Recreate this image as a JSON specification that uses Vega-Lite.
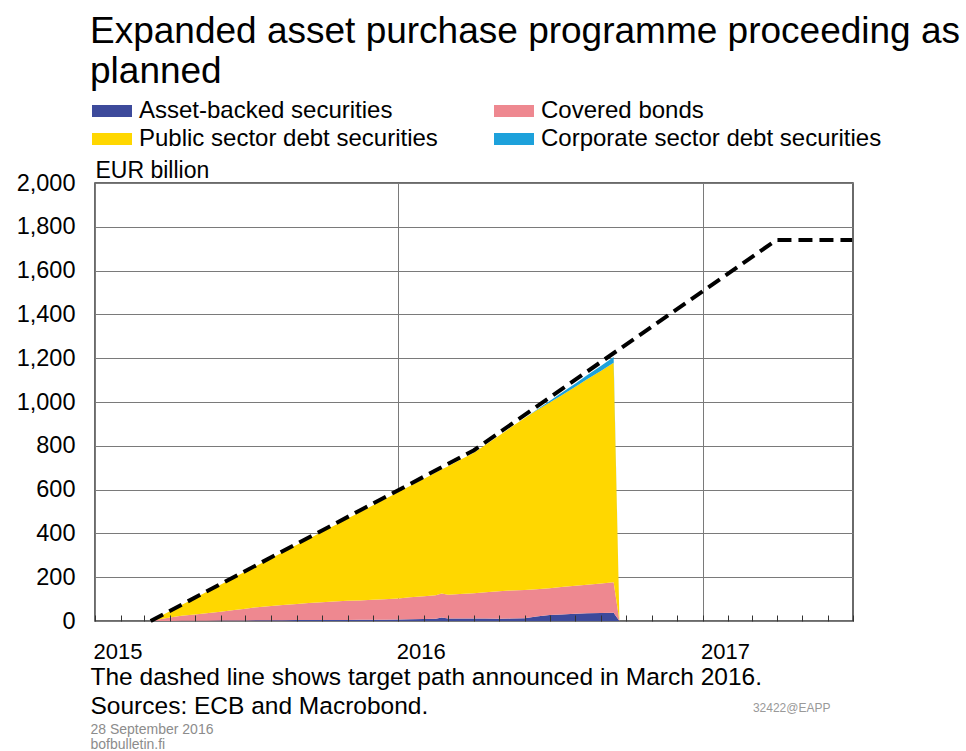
{
  "$schema": "https://vega.github.io/schema/vega-lite/v6.json",
  "width": 758,
  "height": 438,
  "autosize": "none",
  "padding": {"left": 95, "top": 183, "right": 113, "bottom": 130},
  "background": "white",
  "config": {
    "font": "Liberation Sans",
    "view": {"stroke": "#3a3a3a", "strokeWidth": 1.5}
  },
  "title": {
    "text": ["Expanded asset purchase programme proceeding as", "planned"],
    "anchor": "start",
    "frame": "group",
    "dx": -5,
    "offset": 8,
    "fontSize": 37,
    "lineHeight": 40,
    "fontWeight": "normal",
    "color": "#000"
  },
  "datasets": {
    "series": [
      {"s": "abs", "label": "Asset-backed securities", "k": 1},
      {"s": "cov", "label": "Covered bonds", "k": 2},
      {"s": "pub", "label": "Public sector debt securities", "k": 3},
      {"s": "corp", "label": "Corporate sector debt securities", "k": 4}
    ],
    "target": [
      {"d": "2015-03-09", "t": 0},
      {"d": "2016-04-01", "t": 780},
      {"d": "2017-03-31", "t": 1740},
      {"d": "2017-06-30", "t": 1740}
    ],
    "app": [
      {"d": "2015-03-09", "s": "abs", "v": 0}, {"d": "2015-03-09", "s": "cov", "v": 0}, {"d": "2015-03-09", "s": "pub", "v": 0}, {"d": "2015-03-09", "s": "corp", "v": 0},
      {"d": "2015-03-20", "s": "abs", "v": 0}, {"d": "2015-03-20", "s": "cov", "v": 8}, {"d": "2015-03-20", "s": "pub", "v": 13}, {"d": "2015-03-20", "s": "corp", "v": 0},
      {"d": "2015-04-01", "s": "abs", "v": 0.5}, {"d": "2015-04-01", "s": "cov", "v": 15.5}, {"d": "2015-04-01", "s": "pub", "v": 29}, {"d": "2015-04-01", "s": "corp", "v": 0},
      {"d": "2015-04-15", "s": "abs", "v": 1}, {"d": "2015-04-15", "s": "cov", "v": 23}, {"d": "2015-04-15", "s": "pub", "v": 49}, {"d": "2015-04-15", "s": "corp", "v": 0},
      {"d": "2015-05-01", "s": "abs", "v": 1}, {"d": "2015-05-01", "s": "cov", "v": 29}, {"d": "2015-05-01", "s": "pub", "v": 74}, {"d": "2015-05-01", "s": "corp", "v": 0},
      {"d": "2015-05-15", "s": "abs", "v": 1.5}, {"d": "2015-05-15", "s": "cov", "v": 33.5}, {"d": "2015-05-15", "s": "pub", "v": 97}, {"d": "2015-05-15", "s": "corp", "v": 0},
      {"d": "2015-06-01", "s": "abs", "v": 2}, {"d": "2015-06-01", "s": "cov", "v": 40}, {"d": "2015-06-01", "s": "pub", "v": 123}, {"d": "2015-06-01", "s": "corp", "v": 0},
      {"d": "2015-06-15", "s": "abs", "v": 2}, {"d": "2015-06-15", "s": "cov", "v": 47}, {"d": "2015-06-15", "s": "pub", "v": 145}, {"d": "2015-06-15", "s": "corp", "v": 0},
      {"d": "2015-07-01", "s": "abs", "v": 2.5}, {"d": "2015-07-01", "s": "cov", "v": 53.5}, {"d": "2015-07-01", "s": "pub", "v": 170}, {"d": "2015-07-01", "s": "corp", "v": 0},
      {"d": "2015-07-15", "s": "abs", "v": 3}, {"d": "2015-07-15", "s": "cov", "v": 60}, {"d": "2015-07-15", "s": "pub", "v": 190}, {"d": "2015-07-15", "s": "corp", "v": 0},
      {"d": "2015-08-01", "s": "abs", "v": 3}, {"d": "2015-08-01", "s": "cov", "v": 66}, {"d": "2015-08-01", "s": "pub", "v": 218}, {"d": "2015-08-01", "s": "corp", "v": 0},
      {"d": "2015-08-15", "s": "abs", "v": 3.5}, {"d": "2015-08-15", "s": "cov", "v": 69.5}, {"d": "2015-08-15", "s": "pub", "v": 241}, {"d": "2015-08-15", "s": "corp", "v": 0},
      {"d": "2015-09-01", "s": "abs", "v": 4}, {"d": "2015-09-01", "s": "cov", "v": 74}, {"d": "2015-09-01", "s": "pub", "v": 270}, {"d": "2015-09-01", "s": "corp", "v": 0},
      {"d": "2015-09-15", "s": "abs", "v": 4}, {"d": "2015-09-15", "s": "cov", "v": 78}, {"d": "2015-09-15", "s": "pub", "v": 293}, {"d": "2015-09-15", "s": "corp", "v": 0},
      {"d": "2015-10-01", "s": "abs", "v": 4.5}, {"d": "2015-10-01", "s": "cov", "v": 81.5}, {"d": "2015-10-01", "s": "pub", "v": 321}, {"d": "2015-10-01", "s": "corp", "v": 0},
      {"d": "2015-10-15", "s": "abs", "v": 5}, {"d": "2015-10-15", "s": "cov", "v": 84}, {"d": "2015-10-15", "s": "pub", "v": 345}, {"d": "2015-10-15", "s": "corp", "v": 0},
      {"d": "2015-11-01", "s": "abs", "v": 5}, {"d": "2015-11-01", "s": "cov", "v": 87}, {"d": "2015-11-01", "s": "pub", "v": 376}, {"d": "2015-11-01", "s": "corp", "v": 0},
      {"d": "2015-11-15", "s": "abs", "v": 5.5}, {"d": "2015-11-15", "s": "cov", "v": 88.5}, {"d": "2015-11-15", "s": "pub", "v": 401}, {"d": "2015-11-15", "s": "corp", "v": 0},
      {"d": "2015-12-01", "s": "abs", "v": 6}, {"d": "2015-12-01", "s": "cov", "v": 91}, {"d": "2015-12-01", "s": "pub", "v": 430}, {"d": "2015-12-01", "s": "corp", "v": 0},
      {"d": "2015-12-15", "s": "abs", "v": 6}, {"d": "2015-12-15", "s": "cov", "v": 93}, {"d": "2015-12-15", "s": "pub", "v": 456}, {"d": "2015-12-15", "s": "corp", "v": 0},
      {"d": "2016-01-01", "s": "abs", "v": 7}, {"d": "2016-01-01", "s": "cov", "v": 96}, {"d": "2016-01-01", "s": "pub", "v": 486}, {"d": "2016-01-01", "s": "corp", "v": 0},
      {"d": "2016-01-15", "s": "abs", "v": 8}, {"d": "2016-01-15", "s": "cov", "v": 100}, {"d": "2016-01-15", "s": "pub", "v": 509}, {"d": "2016-01-15", "s": "corp", "v": 0},
      {"d": "2016-02-01", "s": "abs", "v": 9}, {"d": "2016-02-01", "s": "cov", "v": 104}, {"d": "2016-02-01", "s": "pub", "v": 537}, {"d": "2016-02-01", "s": "corp", "v": 0},
      {"d": "2016-02-15", "s": "abs", "v": 10}, {"d": "2016-02-15", "s": "cov", "v": 108}, {"d": "2016-02-15", "s": "pub", "v": 560}, {"d": "2016-02-15", "s": "corp", "v": 0},
      {"d": "2016-02-22", "s": "abs", "v": 16}, {"d": "2016-02-22", "s": "cov", "v": 110}, {"d": "2016-02-22", "s": "pub", "v": 566}, {"d": "2016-02-22", "s": "corp", "v": 0},
      {"d": "2016-03-01", "s": "abs", "v": 11}, {"d": "2016-03-01", "s": "cov", "v": 109}, {"d": "2016-03-01", "s": "pub", "v": 587}, {"d": "2016-03-01", "s": "corp", "v": 0},
      {"d": "2016-03-15", "s": "abs", "v": 11}, {"d": "2016-03-15", "s": "cov", "v": 112}, {"d": "2016-03-15", "s": "pub", "v": 612}, {"d": "2016-03-15", "s": "corp", "v": 0},
      {"d": "2016-04-01", "s": "abs", "v": 11}, {"d": "2016-04-01", "s": "cov", "v": 116}, {"d": "2016-04-01", "s": "pub", "v": 641}, {"d": "2016-04-01", "s": "corp", "v": 0},
      {"d": "2016-04-15", "s": "abs", "v": 11}, {"d": "2016-04-15", "s": "cov", "v": 120}, {"d": "2016-04-15", "s": "pub", "v": 674}, {"d": "2016-04-15", "s": "corp", "v": 0},
      {"d": "2016-05-01", "s": "abs", "v": 10}, {"d": "2016-05-01", "s": "cov", "v": 126}, {"d": "2016-05-01", "s": "pub", "v": 710}, {"d": "2016-05-01", "s": "corp", "v": 0},
      {"d": "2016-05-15", "s": "abs", "v": 11}, {"d": "2016-05-15", "s": "cov", "v": 128}, {"d": "2016-05-15", "s": "pub", "v": 744}, {"d": "2016-05-15", "s": "corp", "v": 0},
      {"d": "2016-06-01", "s": "abs", "v": 12}, {"d": "2016-06-01", "s": "cov", "v": 130}, {"d": "2016-06-01", "s": "pub", "v": 785}, {"d": "2016-06-01", "s": "corp", "v": 0},
      {"d": "2016-06-15", "s": "abs", "v": 20}, {"d": "2016-06-15", "s": "cov", "v": 125}, {"d": "2016-06-15", "s": "pub", "v": 816}, {"d": "2016-06-15", "s": "corp", "v": 2},
      {"d": "2016-07-01", "s": "abs", "v": 27}, {"d": "2016-07-01", "s": "cov", "v": 123}, {"d": "2016-07-01", "s": "pub", "v": 848}, {"d": "2016-07-01", "s": "corp", "v": 7},
      {"d": "2016-07-15", "s": "abs", "v": 30}, {"d": "2016-07-15", "s": "cov", "v": 125}, {"d": "2016-07-15", "s": "pub", "v": 875}, {"d": "2016-07-15", "s": "corp", "v": 11},
      {"d": "2016-08-01", "s": "abs", "v": 33}, {"d": "2016-08-01", "s": "cov", "v": 128}, {"d": "2016-08-01", "s": "pub", "v": 909}, {"d": "2016-08-01", "s": "corp", "v": 15},
      {"d": "2016-08-15", "s": "abs", "v": 35}, {"d": "2016-08-15", "s": "cov", "v": 131}, {"d": "2016-08-15", "s": "pub", "v": 938}, {"d": "2016-08-15", "s": "corp", "v": 18},
      {"d": "2016-09-01", "s": "abs", "v": 36}, {"d": "2016-09-01", "s": "cov", "v": 135}, {"d": "2016-09-01", "s": "pub", "v": 972}, {"d": "2016-09-01", "s": "corp", "v": 22},
      {"d": "2016-09-16", "s": "abs", "v": 38}, {"d": "2016-09-16", "s": "cov", "v": 139}, {"d": "2016-09-16", "s": "pub", "v": 1002}, {"d": "2016-09-16", "s": "corp", "v": 26},
      {"d": "2016-09-23", "s": "abs", "v": 0}, {"d": "2016-09-23", "s": "cov", "v": 0}, {"d": "2016-09-23", "s": "pub", "v": 0}, {"d": "2016-09-23", "s": "corp", "v": 0}
    ]
  },
  "layer": [
    {
      "data": {"name": "app"},
      "transform": [
        {"lookup": "s", "from": {"data": {"name": "series"}, "key": "s", "fields": ["label", "k"]}}
      ],
      "mark": {"type": "area", "interpolate": "linear", "opacity": 1},
      "encoding": {
        "x": {
          "field": "d",
          "type": "temporal",
          "scale": {"type": "utc", "domain": ["2015-01-01", "2017-07-01"]},
          "axis": {
            "orient": "bottom",
            "zindex": 0,
            "tickCount": {"interval": "year", "step": 1},
            "labelExpr": "utcFormat(datum.value, '%Y')",
            "labelAlign": "left",
            "labelBaseline": "top",
            "labelPadding": 20,
            "labelFontSize": 22,
            "labelColor": "#000",
            "labelOverlap": false,
            "labelFlush": false,
            "labelOffset": -2,
            "ticks": false,
            "domain": false,
            "grid": true,
            "gridColor": "#7a7a7a",
            "gridWidth": 1,
            "title": ["The dashed line shows target path announced in March 2016.", "Sources: ECB and Macrobond."],
            "titleX": -5,
            "titleY": 44,
            "titleAlign": "left",
            "titleAnchor": "start",
            "titleBaseline": "top",
            "titleFontSize": 24.5,
            "titleLineHeight": 29,
            "titleFontWeight": "normal",
            "titleColor": "#000"
          }
        },
        "y": {
          "field": "v",
          "type": "quantitative",
          "stack": "zero",
          "scale": {"domain": [0, 2000], "nice": false},
          "axis": {
            "orient": "left",
            "values": [0, 200, 400, 600, 800, 1000, 1200, 1400, 1600, 1800, 2000],
            "format": ",.0f",
            "labelFontSize": 23.5,
            "labelColor": "#000",
            "labelPadding": 20,
            "ticks": false,
            "domain": false,
            "grid": true,
            "gridColor": "#7a7a7a",
            "gridWidth": 1,
            "title": "EUR billion",
            "titleAngle": 0,
            "titleX": 0,
            "titleY": -6,
            "titleAlign": "left",
            "titleBaseline": "alphabetic",
            "titleFontSize": 23,
            "titleFontWeight": "normal",
            "titleColor": "#000"
          }
        },
        "color": {
          "field": "label",
          "type": "nominal",
          "scale": {
            "domain": ["Asset-backed securities", "Public sector debt securities", "Covered bonds", "Corporate sector debt securities"],
            "range": ["#3d4a9b", "#ffd700", "#ee8890", "#1da1db"]
          },
          "legend": {
            "orient": "none",
            "legendX": 5,
            "legendY": -84,
            "columns": 2,
            "columnPadding": 56,
            "rowPadding": 4,
            "title": null,
            "symbolType": "M-2,-0.6L2,-0.6L2,0.6L-2,0.6Z",
            "symbolSize": 400,
            "symbolStrokeWidth": 0,
            "symbolOpacity": 1,
            "labelOffset": 15,
            "labelFontSize": 24,
            "labelColor": "#000",
            "labelLimit": 500
          }
        },
        "order": {"field": "k", "type": "quantitative"}
      }
    },
    {
      "data": {"name": "target"},
      "mark": {"type": "line", "color": "#000", "strokeWidth": 4, "strokeDash": [14, 7], "strokeCap": "butt"},
      "encoding": {
        "x": {
          "field": "d",
          "type": "temporal",
          "axis": {
            "orient": "bottom",
            "zindex": 1,
            "tickCount": {"interval": "month", "step": 1},
            "ticks": true,
            "tickSize": -6,
            "tickColor": "#333",
            "tickWidth": 1,
            "labels": false,
            "domain": false,
            "grid": false,
            "title": ["28 September 2016", "bofbulletin.fi"],
            "titleX": -5,
            "titleY": 101,
            "titleAlign": "left",
            "titleAnchor": "start",
            "titleBaseline": "top",
            "titleFontSize": 14,
            "titleLineHeight": 15,
            "titleFontWeight": "normal",
            "titleColor": "#8c8c8c"
          }
        },
        "y": {
          "field": "t",
          "type": "quantitative",
          "axis": {
            "orient": "right",
            "labels": false,
            "ticks": false,
            "domain": false,
            "grid": false,
            "title": "32422@EAPP",
            "titleAngle": 0,
            "titleX": -23,
            "titleY": 528,
            "titleAlign": "right",
            "titleBaseline": "alphabetic",
            "titleFontSize": 12,
            "titleFontWeight": "normal",
            "titleColor": "#999"
          }
        }
      }
    }
  ],
  "resolve": {"axis": {"x": "independent", "y": "independent"}}
}
